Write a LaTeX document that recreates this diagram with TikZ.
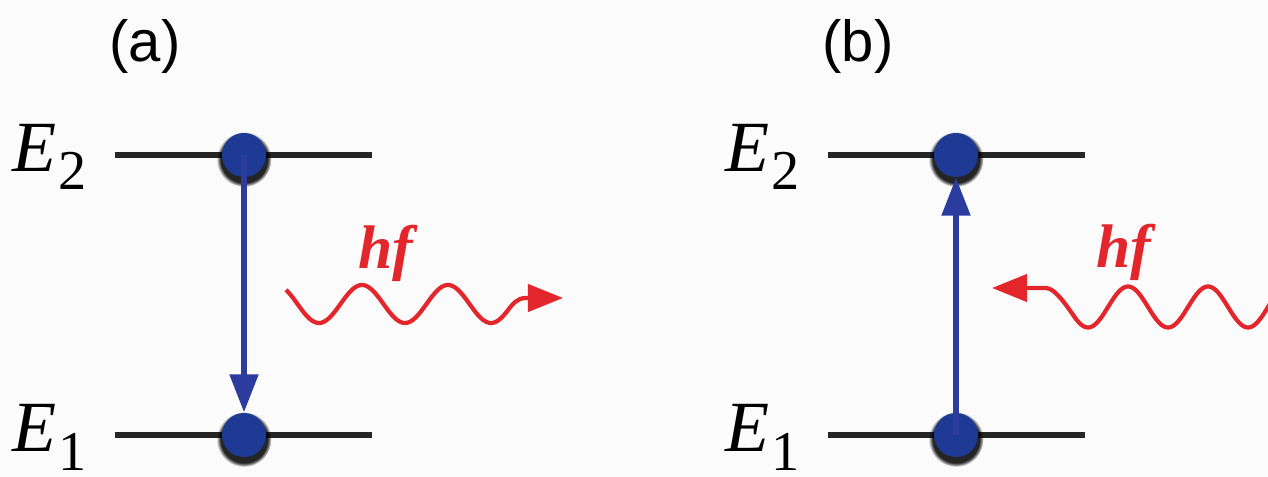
\documentclass[tikz,border=0pt]{standalone}
\usepackage{fontspec}
\setmainfont{Liberation Serif}
\newfontfamily\panelfont{Liberation Sans}
\usetikzlibrary{arrows.meta, positioning, shadows}

\definecolor{dotblue}{RGB}{30,58,148}
\definecolor{jumpblue}{RGB}{43,60,158}
\definecolor{photonred}{RGB}{226,38,43}
\definecolor{paper}{RGB}{251,251,251}

% level label E_i
\newcommand{\lvl}[1]{\fontsize{20.5}{20.5}\selectfont\textit{E}\hspace{0.5pt}\raisebox{-0.18cm}{\fontsize{16}{16}\selectfont #1}}

\begin{document}
\begin{tikzpicture}[x=0.01cm, y=-0.01cm,
  level/.style={line width=1.45pt, color=black!85},
  dot/.style={circle, fill=dotblue, minimum size=0.44cm, inner sep=0pt,
    circular drop shadow={shadow xshift=0pt, shadow yshift=-0.035cm, shadow scale=1.25, fill=black, opacity=.85}},
  jump/.style={line width=1.5pt, jumpblue, -{Triangle[length=3.8mm, width=2.8mm]}},
  photon/.style={line width=1.2pt, photonred, -{Triangle[length=3.5mm, width=2.7mm]}},
  lbl/.style={inner sep=0pt, anchor=base west},
  panel/.style={inner sep=0pt, font=\panelfont\fontsize{16.5}{16.5}\selectfont},
  energy/.style={inner sep=0pt, text=photonred, font=\bfseries\itshape\fontsize{17.5}{17.5}\selectfont}]
\useasboundingbox (0,0) rectangle (1268,477);
\fill[paper] (0,0) rectangle (1268,477);
\clip (0,0) rectangle (1268,477);

% (a) emission
\node[panel] (pa) at (145,46) {(a)};
\draw[level] (115,155) -- (372,155);
\draw[level] (115,435) -- (372,435);
\node[lbl] (Ea2) at (12,172) {\lvl{2}};
\node[lbl] (Ea1) at (12,452) {\lvl{1}};
\node[dot] (a2) at (244,155) {};
\node[dot] (a1) at (244,435) {};
\draw[jump] (a2.center) -- (a1.north);
\draw[photon] plot[domain=-48:880, samples=150, variable=\t]
  ({286+(\t+48)/360*86},{304+19*sin(\t)})
  .. controls (512.7,304) and (517,298) .. (526,298) -- (563,298);
\node[energy] (hfa) at (386,253) {hf};

% (b) absorption
\node[panel] (pb) at (858,46) {(b)};
\draw[level] (828,155) -- (1085,155);
\draw[level] (828,435) -- (1085,435);
\node[lbl] (Eb2) at (725,172) {\lvl{2}};
\node[lbl] (Eb1) at (725,452) {\lvl{1}};
\node[dot] (b2) at (956,155) {};
\node[dot] (b1) at (956,435) {};
\draw[jump] (b1.center) -- (b2.south);
\draw[photon] plot[domain=20:960, samples=160, variable=\t]
  ({1088+(890-\t)/360*80},{307+20.5*sin(980-\t)})
  .. controls (1067,306.5) and (1055,288) .. (1046,288) -- (992,288);
\node[energy] (hfb) at (1124,252) {hf};
\end{tikzpicture}
\end{document}
